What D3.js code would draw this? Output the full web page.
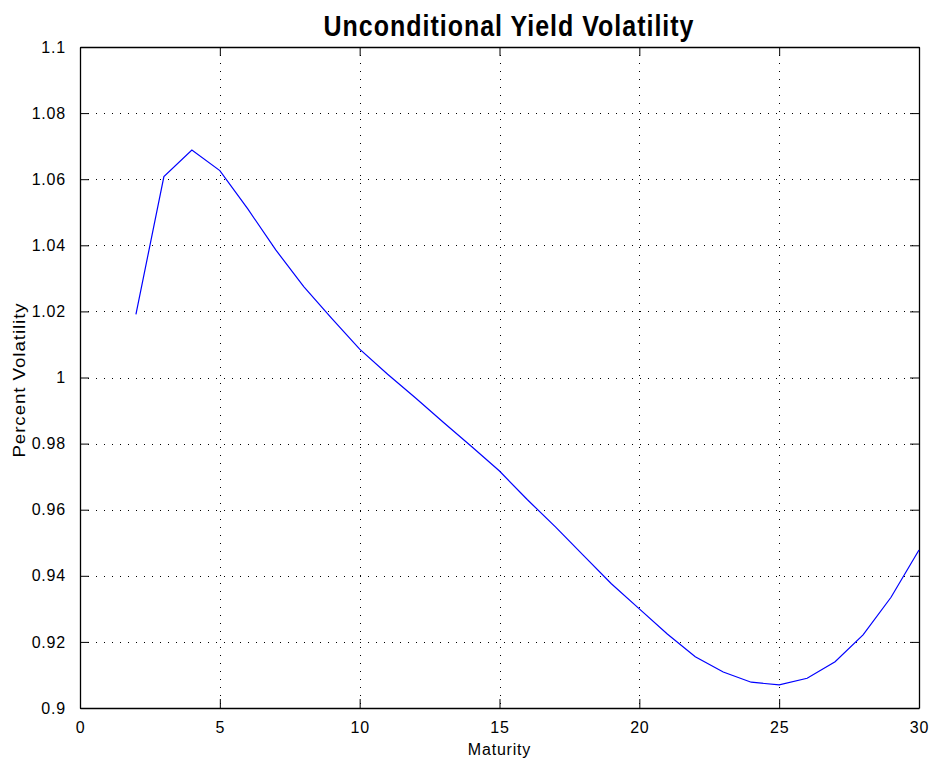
<!DOCTYPE html>
<html>
<head>
<meta charset="utf-8">
<script src="https://cdn.jsdelivr.net/npm/d3@7"></script>
<style>
  body { margin: 0; background: #fff; }
  svg { display: block; font-family: "Liberation Sans", Arial, sans-serif; }
</style>
</head>
<body>
<svg id="chart" width="933" height="763"></svg>
<script>
// maturities and unconditional volatility
var maturity = [2, 3, 4, 5, 6, 7, 8, 9, 10, 11, 12, 13, 14, 15, 16,
                17, 18, 19, 20, 21, 22, 23, 24, 25, 26, 27, 28, 29, 30]
var volatility = [1.0191, 1.0608, 1.0688, 1.0626, 1.0510, 1.0386, 1.0275, 1.0179, 1.0086, 1.0010,
                  0.9938, 0.9864, 0.9791, 0.9717, 0.9630, 0.9548, 0.9462, 0.9376, 0.9300, 0.9224,
                  0.9155, 0.9109, 0.9078, 0.9070, 0.9090, 0.9140, 0.9221, 0.9335, 0.9478]
var xTicks = [0, 5, 10, 15, 20, 25, 30]
var yTicks = [0.9, 0.92, 0.94, 0.96, 0.98, 1, 1.02, 1.04, 1.06, 1.08, 1.1]

var margin = { top: 47, right: 14, bottom: 55, left: 80 }
var svg = d3.select('#chart')
var width = +svg.attr('width') - margin.left - margin.right
var height = +svg.attr('height') - margin.top - margin.bottom

var g = svg.append('g')
    .attr('transform', 'translate(' + margin.left + ',' + margin.top + ')')

var xScale = d3.scaleLinear().domain([0, 30]).range([0, width])
var yScale = d3.scaleLinear().domain([0.9, 1.1]).range([height, 0])
var fmt = d3.format('~g')
var tickLen = 9

// dotted grid
g.append('g').selectAll('line')
    .data(xTicks.slice(1, -1))
    .enter().append('line')
    .attr('x1', d => Math.round(xScale(d)) + 0.5)
    .attr('x2', d => Math.round(xScale(d)) + 0.5)
    .attr('y1', 0).attr('y2', height)
    .attr('stroke', '#000').attr('stroke-dasharray', '1,7')
g.append('g').selectAll('line')
    .data(yTicks.slice(1, -1))
    .enter().append('line')
    .attr('y1', d => Math.round(yScale(d)) + 0.5)
    .attr('y2', d => Math.round(yScale(d)) + 0.5)
    .attr('x1', 0).attr('x2', width)
    .attr('stroke', '#000').attr('stroke-dasharray', '1,7')

// axes, ticks inward like matlab
var xAxis = d3.axisBottom(xScale).tickValues(xTicks).tickFormat(fmt).tickSizeInner(-tickLen).tickSizeOuter(0).tickPadding(14)
var xTop = d3.axisTop(xScale).tickValues(xTicks).tickFormat('').tickSizeInner(-tickLen).tickSizeOuter(0)
var yAxis = d3.axisLeft(yScale).tickValues(yTicks).tickFormat(fmt).tickSizeInner(-tickLen).tickSizeOuter(0).tickPadding(14)
var yRight = d3.axisRight(yScale).tickValues(yTicks).tickFormat('').tickSizeInner(-tickLen).tickSizeOuter(0)

g.append('g').attr('class', 'axis').attr('transform', 'translate(0,' + height + ')').call(xAxis)
g.append('g').attr('class', 'axis').call(xTop)
g.append('g').attr('class', 'axis').call(yAxis)
g.append('g').attr('class', 'axis').attr('transform', 'translate(' + width + ',0)').call(yRight)

g.selectAll('.axis path').attr('stroke', '#000').attr('stroke-width', 1.3)
g.selectAll('.axis line').attr('stroke', '#000')
g.selectAll('.axis text')
    .attr('font-size', 16)
    .attr('letter-spacing', '0.8px')
    .attr('fill', '#000')
    .attr('font-family', '"Liberation Sans", Arial, sans-serif')

// the curve
var line = d3.line()
    .x((d, i) => xScale(maturity[i]))
    .y(d => yScale(d))
g.append('path')
    .datum(volatility)
    .attr('d', line)
    .attr('fill', 'none')
    .attr('stroke', '#0000ff')
    .attr('stroke-width', 1.2)

// labels (title and y label look stretched vertically in the original)
svg.append('text')
    .attr('transform', 'translate(509,36) scale(1,1.17)')
    .attr('text-anchor', 'middle')
    .attr('font-size', 25).attr('font-weight', 'bold')
    .attr('letter-spacing', '1px')
    .text('Unconditional Yield Volatility')

svg.append('text')
    .attr('x', margin.left + width / 2).attr('y', 755)
    .attr('text-anchor', 'middle')
    .attr('font-size', 16).attr('letter-spacing', '0.8px')
    .text('Maturity')

svg.append('text')
    .attr('transform', 'translate(25,380) rotate(-90) scale(1.17,1)')
    .attr('text-anchor', 'middle')
    .attr('font-size', 16).attr('letter-spacing', '0.8px')
    .text('Percent Volatility')
</script>
</body>
</html>
